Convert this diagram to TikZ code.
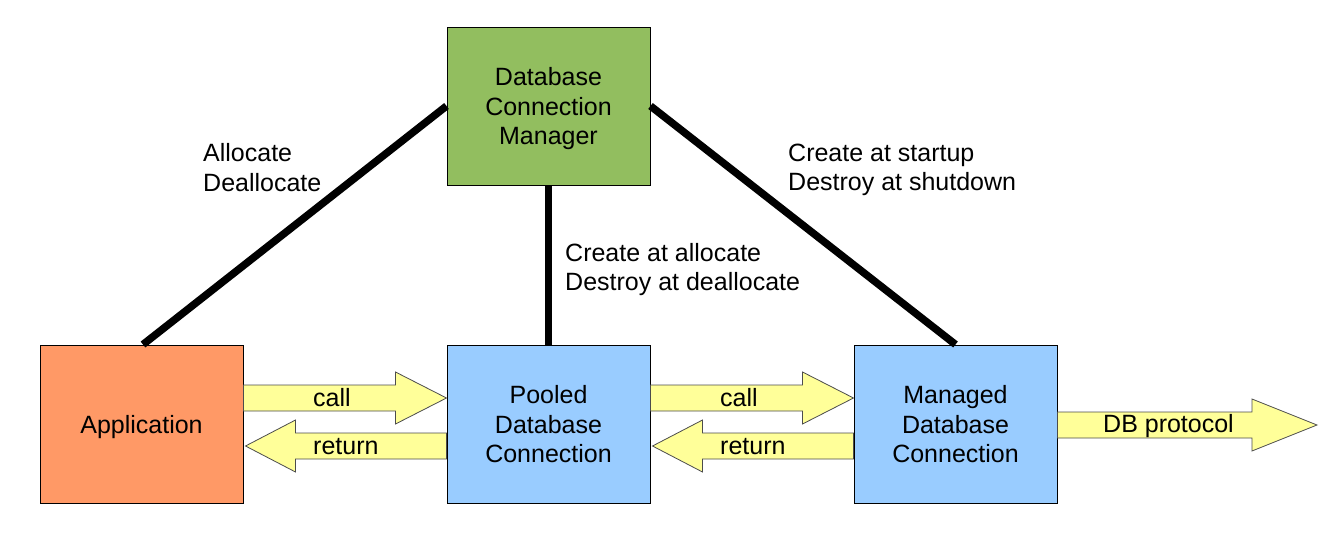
\documentclass[tikz,border=0pt]{standalone}
\usepackage{fontspec}
\setmainfont{Liberation Sans}
\usetikzlibrary{calc}
\definecolor{appfill}{RGB}{255,153,102}
\definecolor{mgrfill}{RGB}{146,190,95}
\definecolor{connfill}{RGB}{153,204,255}
\definecolor{arrfill}{RGB}{255,255,153}
\newcommand\fatarrow[3]{%
  \draw[fatarrow] let \p1=(#1), \p2=(#2) in
    (\x1,\y1+13pt) -- (\x2-#3,\y1+13pt) -- (\x2-#3,\y1+26pt) -- (\x2,\y1)
    -- (\x2-#3,\y1-26pt) -- (\x2-#3,\y1-13pt) -- (\x1,\y1-13pt) -- cycle;}
\begin{document}
\begin{tikzpicture}[x=1pt,y=-1pt,
  font=\fontsize{25}{29.5}\selectfont,
  box/.style={draw=black, line width=1pt, minimum width=203pt, minimum height=158pt,
    inner sep=0pt, align=center, text depth=0pt},
  fatarrow/.style={draw=black!70, line width=0.8pt, fill=arrfill},
  link/.style={line width=7.5pt},
  lbl/.style={inner sep=0pt, anchor=west, align=left},
  linklbl/.style={lbl, text depth=0pt}]
\useasboundingbox (0,0) rectangle (1333,541);
\node[box, fill=mgrfill] (mgr) at (548.5,106) {Database\\Connection\\Manager};
\node[box, fill=appfill] (app) at (141.5,424) {Application};
\node[box, fill=connfill] (pool) at (548.5,424) {Pooled\\Database\\Connection};
\node[box, fill=connfill] (man) at (955.5,424) {Managed\\Database\\Connection};
\coordinate (dbtip) at (1317,425);
% connectors
\draw[link] (mgr.west) -- (app.north -| 143,0);
\draw[link] (mgr.south) -- (pool.north);
\draw[link] (mgr.east) -- (man.north);
% fat arrows
\fatarrow{$(app.east)+(0,-26)$}{$(pool.west)+(0,-26)$}{51pt}
\fatarrow{$(pool.west)+(0,22)$}{$(app.east)+(2,22)$}{-50pt}
\fatarrow{$(pool.east)+(0,-26)$}{$(man.west)+(0,-26)$}{51pt}
\fatarrow{$(man.west)+(0,22)$}{$(pool.east)+(2,22)$}{-50pt}
\fatarrow{$(man.east)+(0,1)$}{dbtip}{65pt}
% arrow labels
\node[lbl] (c1) at (313,398) {call};
\node[lbl] (r1) at (313,446.5) {return};
\node[lbl] (c2) at (720,398) {call};
\node[lbl] (r2) at (720,446.5) {return};
\node[lbl] (db) at (1103,426.5) {DB protocol};
% link labels
\node[linklbl] (l1) at (203,167.2) {Allocate\\Deallocate};
\node[linklbl] (l2) at (565,267) {Create at allocate\\Destroy at deallocate};
\node[linklbl] (l3) at (788,167.5) {Create at startup\\Destroy at shutdown};
\end{tikzpicture}
\end{document}
